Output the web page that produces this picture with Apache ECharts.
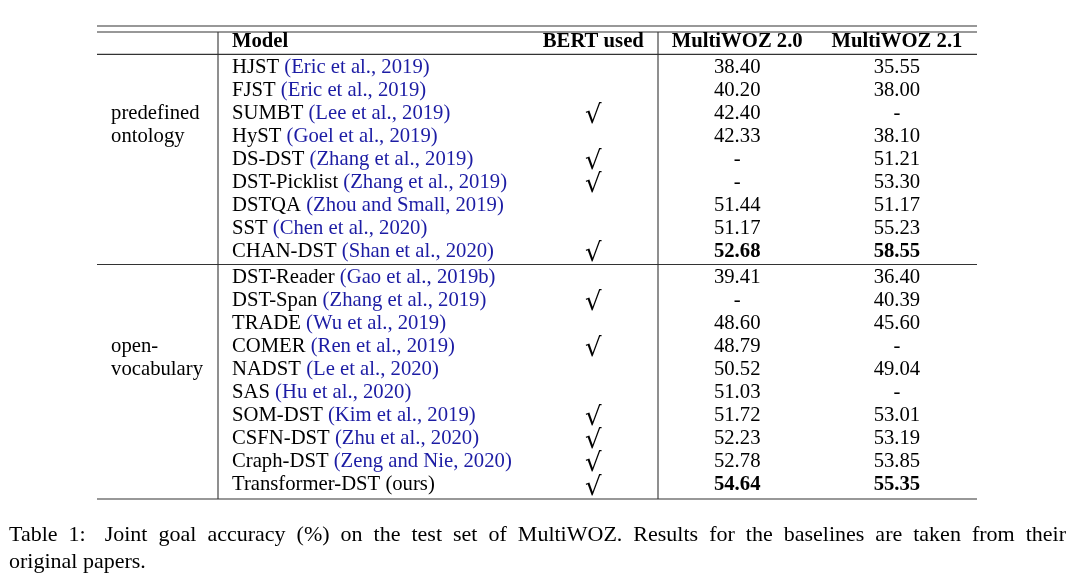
<!DOCTYPE html>
<html>
<head>
<meta charset="utf-8">
<script src="https://cdn.jsdelivr.net/npm/echarts@6/dist/echarts.min.js"></script>
<style>
html, body { margin: 0; padding: 0; background: #fff; }
#table-chart { width: 1081px; height: 584px; }
</style>
</head>
<body>
<div id="table-chart"></div>
<script>
// table content
const headers = ['Model', 'BERT used', 'MultiWOZ 2.0', 'MultiWOZ 2.1']
const models = ['HJST', 'FJST', 'SUMBT', 'HyST', 'DS-DST', 'DST-Picklist', 'DSTQA', 'SST', 'CHAN-DST',
  'DST-Reader', 'DST-Span', 'TRADE', 'COMER', 'NADST', 'SAS', 'SOM-DST', 'CSFN-DST', 'Craph-DST', 'Transformer-DST']
const cites = ['(Eric et al., 2019)', '(Eric et al., 2019)', '(Lee et al., 2019)', '(Goel et al., 2019)',
  '(Zhang et al., 2019)', '(Zhang et al., 2019)', '(Zhou and Small, 2019)', '(Chen et al., 2020)',
  '(Shan et al., 2020)', '(Gao et al., 2019b)', '(Zhang et al., 2019)', '(Wu et al., 2019)',
  '(Ren et al., 2019)', '(Le et al., 2020)', '(Hu et al., 2020)', '(Kim et al., 2019)',
  '(Zhu et al., 2020)', '(Zeng and Nie, 2020)', '(ours)']
const bertUsed = [0, 0, 1, 0, 1, 1, 0, 0, 1, 0, 1, 0, 1, 0, 0, 1, 1, 1, 1]
const multiwoz20 = [38.40, 40.20, 42.40, 42.33, null, null, 51.44, 51.17, 52.68,
  39.41, null, 48.60, 48.79, 50.52, 51.03, 51.72, 52.23, 52.78, 54.64]
const multiwoz21 = [35.55, 38.00, null, 38.10, 51.21, 53.30, 51.17, 55.23, 58.55,
  36.40, 40.39, 45.60, null, 49.04, null, 53.01, 53.19, 53.85, 55.35]
const bestRow = [0, 0, 0, 0, 0, 0, 0, 0, 1, 0, 0, 0, 0, 0, 0, 0, 0, 0, 1]
const groupText = ['predefined', 'ontology', 'open-', 'vocabulary']
const groupRow = [3, 4, 13, 14]
const captionLine1 = 'Table 1: Joint goal accuracy (%) on the test set of MultiWOZ. Results for the baselines are taken from their'
const captionLine2 = 'original papers.'

// layout
const FONT = "'Liberation Serif', 'Times New Roman', serif"
const FS = 20.7
const BLUE = '#1c1ca4'
const COL = { group: 1.6, rule1: 13.75, model: 15.34, bert: 56.4, rule2: 63.75, mw20: 72.75, mw21: 90.9 }
const GAP = 0.115 // extra space around the inner rules

function rowPos(r) {
  if (r === 0) return 0
  return r <= 9 ? r + GAP : r + 2 * GAP
}
const hRules = [-0.67, -0.41, (rowPos(0) + rowPos(1)) / 2, (rowPos(9) + rowPos(10)) / 2, rowPos(19) + 0.62]
const vRules = [COL.rule1, COL.rule2]

const fmt = v => (v == null ? '-' : v.toFixed(2))

function txt(pt, text, align, extra) {
  return {
    type: 'text',
    style: Object.assign({
      x: pt[0], y: pt[1], text: text,
      fontFamily: FONT, fontSize: FS, fill: '#000',
      align: align, verticalAlign: 'middle',
    }, extra || {}),
  }
}

function renderRow(params, api) {
  const i = params.dataIndex
  const y = rowPos(i + 1)
  const weight = bestRow[i] ? 'bold' : 'normal'
  const citeColor = cites[i] === '(ours)' ? '#000' : BLUE
  const p = api.coord([COL.model, y])
  const children = [
    {
      type: 'text',
      style: {
        x: p[0], y: p[1],
        text: `{n|${models[i]}} {c|${cites[i]}}`,
        fontFamily: FONT, fontSize: FS, fill: '#000',
        align: 'left', verticalAlign: 'middle',
        rich: {
          n: { fontFamily: FONT, fontSize: FS, fill: '#000' },
          c: { fontFamily: FONT, fontSize: FS, fill: citeColor },
        },
      },
    },
    txt(api.coord([COL.mw20, y]), fmt(multiwoz20[i]), 'center', { fontWeight: weight }),
    txt(api.coord([COL.mw21, y]), fmt(multiwoz21[i]), 'center', { fontWeight: weight }),
  ]
  if (bertUsed[i]) {
    const c = api.coord([COL.bert, y])
    children.push({
      type: 'text',
      style: {
        x: c[0], y: c[1] + 3, text: '\u221A',
        font: "26px 'DejaVu Serif', serif", fill: '#000',
        align: 'center', verticalAlign: 'middle',
      },
    })
  }
  return { type: 'group', children }
}

function renderHeader(params, api) {
  const i = params.dataIndex
  const cols = [COL.model, COL.bert, COL.mw20, COL.mw21]
  const p = api.coord([cols[i], rowPos(0)])
  return txt(p, headers[i], i === 0 ? 'left' : 'center', { fontWeight: 'bold' })
}

function renderGroup(params, api) {
  const i = params.dataIndex
  return txt(api.coord([COL.group, rowPos(groupRow[i])]), groupText[i], 'left')
}

function renderHRule(params, api) {
  const y = hRules[params.dataIndex]
  const a = api.coord([0, y])
  const b = api.coord([100, y])
  return { type: 'line', shape: { x1: a[0], y1: a[1], x2: b[0], y2: b[1] }, style: { stroke: '#333', lineWidth: 1.1 } }
}

function renderVRule(params, api) {
  const x = vRules[params.dataIndex]
  const a = api.coord([x, hRules[1]])
  const b = api.coord([x, hRules[4]])
  return { type: 'line', shape: { x1: a[0], y1: a[1], x2: b[0], y2: b[1] }, style: { stroke: '#333', lineWidth: 1.1 } }
}

// justified caption line
function captionGraphics() {
  const CFS = 22
  const ctx = document.createElement('canvas').getContext('2d')
  ctx.font = `${CFS}px ${FONT}`
  const words = captionLine1.split(' ')
  const left = 9
  const right = 1066
  const widths = words.map(w => ctx.measureText(w).width)
  const extra = 8 // wider space after "Table 1:"
  const total = widths.reduce((s, w) => s + w, 0)
  const gap = (right - left - total - extra) / (words.length - 1)
  const els = []
  let x = left
  words.forEach((w, k) => {
    els.push({ type: 'text', x: x, y: 535, style: { text: w, font: `${CFS}px ${FONT}`, fill: '#000', verticalAlign: 'middle' } })
    x += widths[k] + gap + (k === 1 ? extra : 0)
  })
  els.push({ type: 'text', x: left, y: 562, style: { text: captionLine2, font: `${CFS}px ${FONT}`, fill: '#000', verticalAlign: 'middle' } })
  return els
}

const myChart = echarts.init(document.getElementById('table-chart'))
myChart.setOption({
  animation: false,
  backgroundColor: '#fff',
  grid: { left: 97, width: 880, top: 18.45, height: 484.05 },
  xAxis: { type: 'value', min: 0, max: 100, show: false },
  yAxis: { type: 'value', min: -1, max: 20, inverse: true, show: false },
  graphic: captionGraphics(),
  series: [
    { type: 'custom', silent: true, renderItem: renderHRule, data: hRules.map((v, k) => [0, k]) },
    { type: 'custom', silent: true, renderItem: renderVRule, data: vRules.map((v, k) => [v, 0]) },
    { type: 'custom', silent: true, renderItem: renderHeader, data: headers.map((h, k) => [k, 0]) },
    { type: 'custom', silent: true, renderItem: renderGroup, data: groupText.map((g, k) => [0, groupRow[k]]) },
    { type: 'custom', silent: true, renderItem: renderRow, data: models.map((m, k) => [0, k]) },
  ],
})
</script>
</body>
</html>
